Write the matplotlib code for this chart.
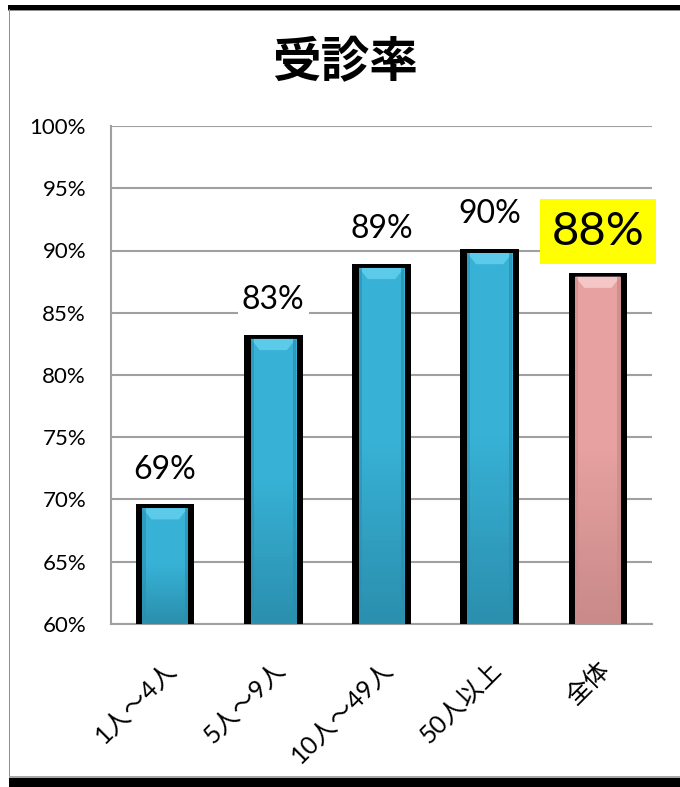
import numpy as np
import matplotlib
matplotlib.use("Agg")
import matplotlib.pyplot as plt
from matplotlib.patches import Rectangle, Polygon

plt.rcParams['font.family'] = ['Lato', 'Noto Sans CJK JP', 'DejaVu Sans']

# data
categories = ['1人～4人', '5人～9人', '10人～49人', '50人以上', '全体']
rates = [69.6, 83.2, 88.9, 90.1, 88.2]
labels = ['69%', '83%', '89%', '90%', '88%']
y_ticks = [60, 65, 70, 75, 80, 85, 90, 95, 100]

W, H = 680, 787
fig = plt.figure(figsize=(W / 100, H / 100), dpi=100)
ax = fig.add_axes([111 / W, 1 - 624 / H, (652 - 111) / W, (624 - 126) / H])

x = np.arange(len(categories))
face = ['#37b1d5'] * 4 + ['#e6a1a0']
light = ['#5ccbea'] * 4 + ['#f4c6c5']
dark = ['#2b8fae'] * 4 + ['#c98a89']

# black "shadow" body behind each bar
ax.bar(x, np.array(rates) - 60, bottom=60, width=0.54, color='black', zorder=2)
# coloured body
bars = ax.bar(x, np.array(rates) - 60.3, bottom=60, width=0.42,
              color=face, zorder=3)

# soft vertical gradient clipped to each bar + bevelled top
grad = np.linspace(0, 1, 64).reshape(-1, 1)
for i, b in enumerate(bars):
    x0, w, top = b.get_x(), b.get_width(), b.get_y() + b.get_height()
    cmap = matplotlib.colors.LinearSegmentedColormap.from_list(
        'g', [dark[i], face[i], face[i]])
    im = ax.imshow(grad, cmap=cmap, aspect='auto', origin='lower',
                   extent=(x0, x0 + w, 60, top), zorder=3.1)
    im.set_clip_path(b)
    d = 0.9
    dx = w * 0.2
    ax.add_patch(Polygon([(x0, top), (x0 + w, top), (x0 + w - dx, top - d),
                          (x0 + dx, top - d)], closed=True,
                         facecolor=light[i], edgecolor='none', zorder=3.2))
    ax.add_patch(Rectangle((x0, 60), w * 0.07, top - 60, facecolor=dark[i],
                           edgecolor='none', alpha=0.6, zorder=3.2))
    ax.add_patch(Rectangle((x0 + w * 0.93, 60), w * 0.07, top - 60,
                           facecolor=dark[i], edgecolor='none', alpha=0.7,
                           zorder=3.2))

# value labels
for i, (r, t) in enumerate(zip(rates, labels)):
    if i == len(rates) - 1:
        ax.text(i, r + 3.3, t, ha='center', va='center', fontsize=34, zorder=5,
                bbox=dict(facecolor='#ffff00', edgecolor='none', pad=8))
    else:
        ax.text(i, r + 2.8, t, ha='center', va='center', fontsize=23, zorder=5,
                bbox=dict(facecolor='white', edgecolor='none', pad=3))

ax.set_xlim(-0.5, len(categories) - 0.5)
ax.set_ylim(60, 100)
ax.set_yticks(y_ticks)
ax.set_yticklabels(['%d%%' % v for v in y_ticks], fontsize=16)
ax.set_xticks(x)
ax.set_xticklabels(categories, rotation=45, ha='right', va='top',
                   rotation_mode='anchor', fontsize=18)
ax.tick_params(length=0)
ax.tick_params(axis='y', pad=18)
ax.tick_params(axis='x', pad=24)
ax.yaxis.grid(True, color='#a0a0a0', linewidth=1.5)
ax.set_axisbelow(True)
for s in ['top', 'right']:
    ax.spines[s].set_visible(False)
for s in ['left', 'bottom']:
    ax.spines[s].set_color('#a0a0a0')
    ax.spines[s].set_linewidth(1.5)
    ax.spines[s].set_zorder(1)

fig.text(345 / W, 1 - 62 / H, '受診率', ha='center', va='center',
         fontsize=35, fontweight='bold')

# outer frame
fig.add_artist(Rectangle((8 / W, 1 - 9.5 / H), 1, 4.5 / H, transform=fig.transFigure,
                         facecolor='black', edgecolor='none'))
fig.add_artist(Rectangle((8 / W, 1 - 11 / H), 1, 1.5 / H, transform=fig.transFigure,
                         facecolor='#909090', edgecolor='none'))
fig.add_artist(Rectangle((8.5 / W, 1 - 777 / H), 1.5 / W, 768 / H,
                         transform=fig.transFigure, facecolor='#909090', edgecolor='none'))
fig.add_artist(Rectangle((9 / W, 1 - 778 / H), 1, 2 / H, transform=fig.transFigure,
                         facecolor='#a8a8a8', edgecolor='none'))
fig.add_artist(Rectangle((9 / W, 0), 1, 9 / H, transform=fig.transFigure,
                         facecolor='black', edgecolor='none'))

fig.savefig('out.png', dpi=100)
